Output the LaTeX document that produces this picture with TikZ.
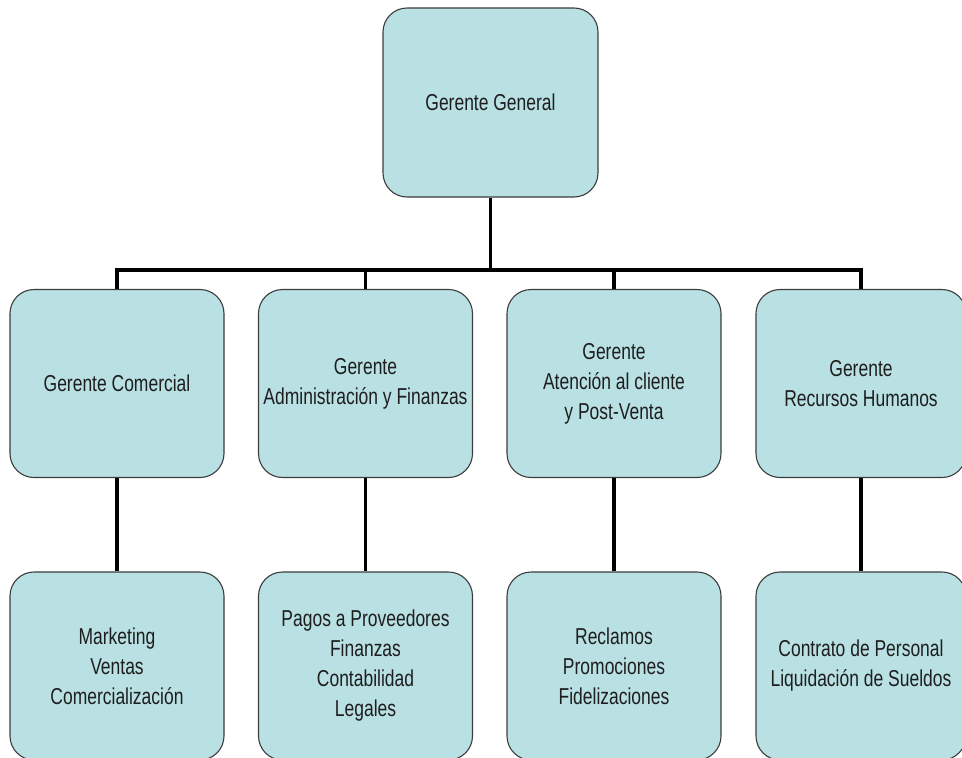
\documentclass[tikz,border=0pt]{standalone}
\usepackage{fontspec}
\setmainfont{Liberation Sans}[FakeStretch=0.76]
\definecolor{boxfill}{RGB}{185,224,227}
\definecolor{boxline}{RGB}{60,60,60}
\definecolor{txt}{RGB}{30,30,30}
\begin{document}
\begin{tikzpicture}[x=1pt,y=-1pt,
  orgbox/.style={draw=boxline, line width=1.1pt, fill=boxfill, rounded corners=24pt,
    minimum width=214pt, minimum height=188pt, inner sep=0pt, align=center,
    text=txt, font=\fontsize{23}{30}\selectfont},
  conn/.style={draw=black, line width=3.5pt}]
\useasboundingbox (0,0) rectangle (962,758);
\clip (0,0) rectangle (962,758);
\node[orgbox, minimum width=215pt, minimum height=189pt] (gg) at (490.5,102.5) {Gerente General};
\node[orgbox] (gc) at (117,383.5) {Gerente Comercial};
\node[orgbox] (ga) at (365.5,383.5) {Gerente\\Administración y Finanzas};
\node[orgbox] (ac) at (614,383.5) {Gerente\\Atención al cliente\\y Post-Venta};
\node[orgbox, minimum width=210pt] (rh) at (861,383.5) {Gerente\\Recursos Humanos};
\node[orgbox] (mk) at (117,666) {Marketing\\Ventas\\Comercialización};
\node[orgbox] (pp) at (365.5,666) {Pagos a Proveedores\\Finanzas\\Contabilidad\\Legales};
\node[orgbox] (rc) at (614,666) {Reclamos\\Promociones\\Fidelizaciones};
\node[orgbox, minimum width=210pt] (cp) at (861,666) {Contrato de Personal\\Liquidación de Sueldos};
\coordinate (bus) at (490.5,270);
\begin{scope}[on background layer/.style={}]
\draw[conn] (gg.south) -- (bus);
\draw[conn] (gc.north) |- (bus);
\draw[conn] (ga.north) |- (bus);
\draw[conn] (ac.north) |- (bus);
\draw[conn] (rh.north) |- (bus);
\draw[conn] (gc.south) -- (mk.north);
\draw[conn] (ga.south) -- (pp.north);
\draw[conn] (ac.south) -- (rc.north);
\draw[conn] (rh.south) -- (cp.north);
\end{scope}
\end{tikzpicture}
\end{document}
